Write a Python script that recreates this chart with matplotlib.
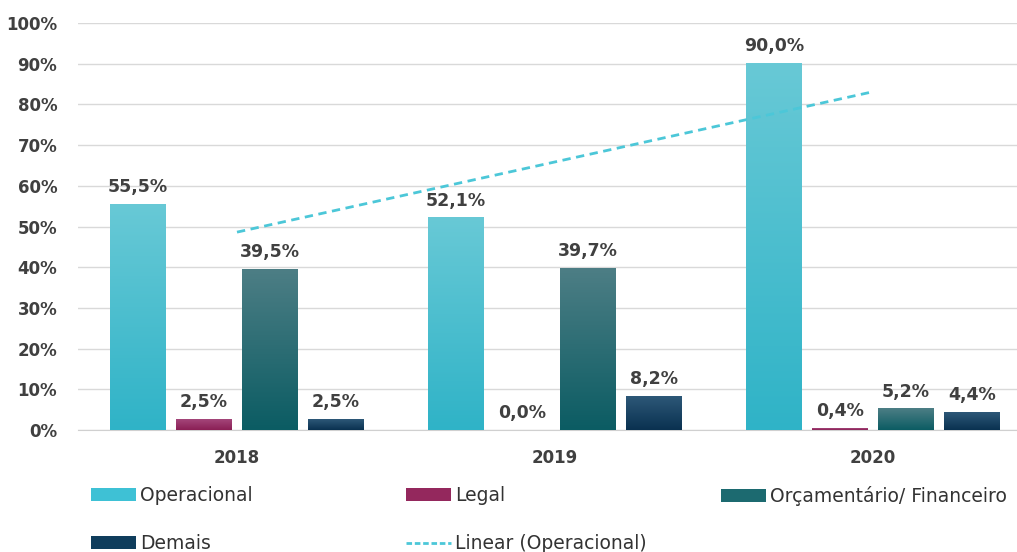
import numpy as np
import matplotlib.pyplot as plt
from matplotlib.colors import LinearSegmentedColormap
from matplotlib.patches import Patch
from matplotlib.lines import Line2D

years = ['2018', '2019', '2020']
series = ['Operacional', 'Legal', 'Orçamentário/ Financeiro', 'Demais']
operacional = [55.5, 52.1, 90.0]
legal = [2.5, 0.0, 0.4]
orcamentario = [39.5, 39.7, 5.2]
demais = [2.5, 8.2, 4.4]
values = [operacional, legal, orcamentario, demais]

# gradient (top colour, bottom colour) per series
grads = [('#68c9d6', '#2fb3c7'),
         ('#a4467a', '#8a1f55'),
         ('#4d7e85', '#0b5c63'),
         ('#2d5878', '#0a3150')]
solid = ['#3ec1d5', '#94285d', '#1c6a70', '#0f3d5c']

W, H = 1017, 552
fig = plt.figure(figsize=(W / 100, H / 100), dpi=100)
ax = fig.add_axes([78 / W, (H - 430) / H, 954 / W, 407 / H])

x = np.arange(len(years))
bw = 56 / 318
step = 66 / 318
grad = np.linspace(1, 0, 256).reshape(-1, 1)

for i, (vals, (ctop, cbot)) in enumerate(zip(values, grads)):
    pos = x + (i - 1.5) * step
    bars = ax.bar(pos, vals, width=bw, color='none', edgecolor='none', zorder=3)
    cmap = LinearSegmentedColormap.from_list('g%d' % i, [cbot, ctop])
    for b, v in zip(bars, vals):
        if v > 0:
            ax.imshow(grad, cmap=cmap, aspect='auto', zorder=3,
                      extent=[b.get_x(), b.get_x() + b.get_width(), 0, v])
        ax.annotate(('%.1f%%' % v).replace('.', ','),
                    (b.get_x() + b.get_width() / 2, v),
                    xytext=(0, 6), textcoords='offset points',
                    ha='center', va='bottom', fontsize=12.5,
                    fontweight='bold', color='#404040')

# linear trend of Operacional
coef = np.polyfit(x, operacional, 1)
ax.plot(x, np.polyval(coef, x), color='#4cc7d8', linestyle=(0, (3, 2)),
        linewidth=2, zorder=4)

ax.set_xlim(-0.5, 2.5)
ax.set_ylim(0, 100)
ax.set_yticks(np.arange(0, 101, 10))
ax.set_yticklabels(['%d%%' % t for t in range(0, 101, 10)])
ax.set_xticks(x)
ax.set_xticklabels(years)
ax.grid(axis='y', color='#d9d9d9', linewidth=1, zorder=0)
ax.set_axisbelow(True)
for s in ['top', 'right', 'left']:
    ax.spines[s].set_visible(False)
ax.spines['bottom'].set_color('#d0d0d0')
ax.tick_params(axis='both', length=0, labelsize=12, colors='#404040')
ax.tick_params(axis='y', pad=15)
ax.tick_params(axis='x', pad=14)
for lab in ax.get_xticklabels() + ax.get_yticklabels():
    lab.set_fontweight('bold')

h = [Patch(facecolor=c) for c in solid]
h.append(Line2D([0], [0], color='#4cc7d8', linestyle=(0, (2, 1)), linewidth=2))
labels = series + ['Linear (Operacional)']
cols = [([h[0], h[3]], [labels[0], labels[3]], 91),
        ([h[1], h[4]], [labels[1], labels[4]], 406),
        ([h[2]], [labels[2]], 721)]
for hh, ll, px in cols:
    leg = fig.legend(hh, ll, loc='upper left',
                     bbox_to_anchor=(px / W, (H - 486) / H),
                     frameon=False, fontsize=13.5, handlelength=2.4,
                     handleheight=0.65, handletextpad=0.2,
                     labelspacing=1.55, borderaxespad=0, borderpad=0)
    for t in leg.get_texts():
        t.set_color('#333333')

fig.savefig('out.png', dpi=100)
